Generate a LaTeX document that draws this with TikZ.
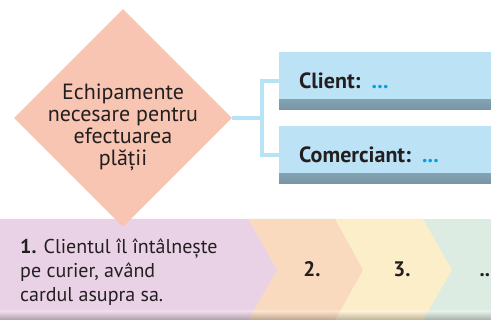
\documentclass[tikz,border=0pt]{standalone}
\usepackage{fontspec}
\setmainfont{PT Sans}
\usetikzlibrary{shapes.geometric}
\definecolor{ink}{RGB}{35,31,32}
\definecolor{diam}{RGB}{247,197,178}
\definecolor{boxblue}{RGB}{188,226,246}
\definecolor{boxedge}{RGB}{118,148,164}
\definecolor{linkblue}{RGB}{184,227,247}
\definecolor{dotblue}{RGB}{0,160,227}
\definecolor{stepa}{RGB}{234,210,230}
\definecolor{stepb}{RGB}{250,218,190}
\definecolor{stepc}{RGB}{252,238,200}
\definecolor{stepd}{RGB}{220,236,226}

\begin{document}
\begin{tikzpicture}[x=1pt, y=-1pt,
  box/.style={rectangle, fill=boxblue, anchor=west, minimum height=58pt,
    text width=190pt, inner xsep=20pt, align=left, text=ink,
    font=\fontsize{22}{24}\selectfont\bfseries,
    path picture={\shade[top color=boxblue, bottom color=boxedge]
      (path picture bounding box.south west) rectangle
      ([yshift=10pt]path picture bounding box.south east);}},
  link/.style={draw=linkblue, line width=4pt},
  steplabel/.style={anchor=base, text=ink, font=\fontsize{21}{24}\selectfont\bfseries}]
\useasboundingbox (0,0) rectangle (491,320);
\fill[stepd] (423,219) rectangle (491,320);
\fill[stepc] (335,219) -- (423,219) -- (452,270) -- (423,320) -- (335,320) -- cycle;
\fill[stepb] (248,219) -- (335,219) -- (363,270) -- (335,320) -- (248,320) -- cycle;
\fill[stepa] (0,219) -- (248,219) -- (277,270) -- (248,320) -- (0,320) -- cycle;
\shade[top color=white, bottom color=black, opacity=0.25] (0,311) rectangle (491,320);
\node[diamond, fill=diam, minimum width=218pt, minimum height=218pt, inner sep=0pt] (eq) at (123,118) {};
\node[align=center, text=ink, font=\fontsize{22}{22}\selectfont] (eqtext) at (123,127)
  {Echipamente\\necesare pentru\\efectuarea\\plății};
\node[box] (client) at (279,81) {Client: \textcolor{dotblue}{...}};
\node[box] (merchant) at (279,155) {Comerciant: \textcolor{dotblue}{...}};
\coordinate (j) at (262,118);
\draw[link] (eq.east) -- (j);
\draw[link] (client.west) -| (j) |- (merchant.west);
\node[align=left, anchor=west, inner sep=0pt, text=ink, font=\fontsize{20}{24}\selectfont] (s1) at (20,272)
  {\textbf{1.} Clientul îl întâlnește\\pe curier, având\\cardul asupra sa.};
\node[steplabel] (s2) at (312,277) {2.};
\node[steplabel] (s3) at (402,277) {3.};
\node[steplabel, anchor=base west] (s4) at (476,277) {...};
\end{tikzpicture}
\end{document}
